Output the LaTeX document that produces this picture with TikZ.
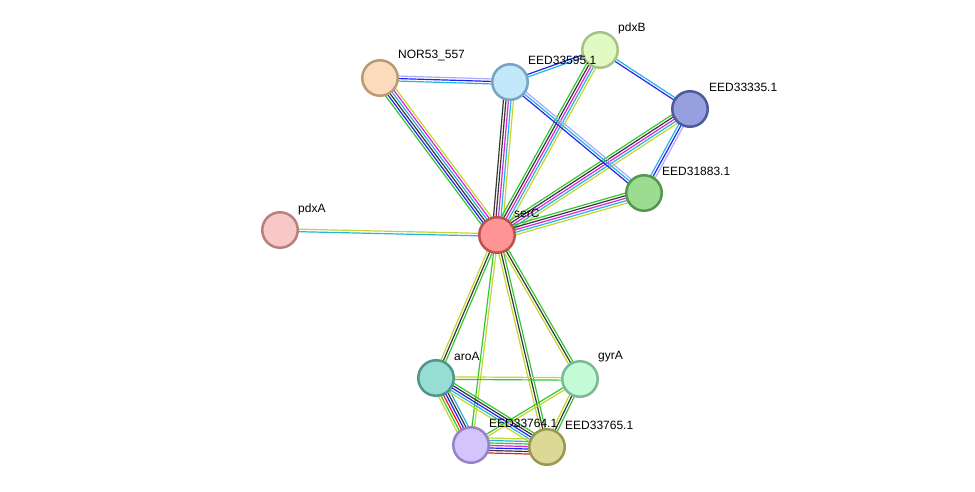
\documentclass[tikz,border=0pt]{standalone}
\usepackage{fontspec}
\setmainfont{Liberation Sans}
\usetikzlibrary{calc,backgrounds}

% evidence channel colours
\definecolor{nbgreen}{RGB}{50,200,50}
\definecolor{fured}{RGB}{240,25,25}
\definecolor{coblue}{RGB}{35,35,240}
\definecolor{cxblack}{RGB}{55,55,55}
\definecolor{expink}{RGB}{220,35,220}
\definecolor{dbcyan}{RGB}{35,180,225}
\definecolor{tmyellow}{RGB}{195,215,45}
\definecolor{holav}{RGB}{170,170,250}

% one coloured line per channel, side by side
\newcommand{\strline}[3]{%
  \foreach \col [count=\k] in {#3} {\xdef\nlines{\k}}
  \foreach \col [count=\k] in {#3} {
    \pgfmathsetmacro{\off}{(\k-(\nlines+1)/2)*2.5}
    \draw[evline,\col] ($(#1.center)!\off pt!90:(#2.center)$) -- ($(#2.center)!\off pt!-90:(#1.center)$);
  }}

\begin{document}
\begin{tikzpicture}[x=1pt,y=-1pt,
  prot/.style={circle,minimum size=35.5pt,inner sep=0pt,line width=2.5pt},
  lbl/.style={anchor=west,inner sep=0pt,font=\fontsize{12}{14}\selectfont},
  evline/.style={line width=1.2pt}]
\useasboundingbox (0,0) rectangle (975,492);

 \node[prot,fill={rgb,255:red,255;green,148;blue,148},draw={rgb,255:red,190;green,80;blue,80}] (serC) at (497,235) {};
 \node[prot,fill={rgb,255:red,248;green,200;blue,200},draw={rgb,255:red,185;green,128;blue,128}] (pdxA) at (280,230) {};
 \node[prot,fill={rgb,255:red,253;green,220;blue,190},draw={rgb,255:red,185;green,155;blue,120}] (nor) at (380,78) {};
 \node[prot,fill={rgb,255:red,195;green,232;blue,250},draw={rgb,255:red,120;green,165;blue,195}] (e595) at (510,82) {};
 \node[prot,fill={rgb,255:red,225;green,250;blue,195},draw={rgb,255:red,165;green,195;blue,135}] (pdxB) at (600,50) {};
 \node[prot,fill={rgb,255:red,150;green,160;blue,225},draw={rgb,255:red,80;green,90;blue,155}] (e335) at (690,109) {};
 \node[prot,fill={rgb,255:red,155;green,220;blue,145},draw={rgb,255:red,85;green,150;blue,80}] (e883) at (644,193) {};
 \node[prot,fill={rgb,255:red,150;green,222;blue,212},draw={rgb,255:red,80;green,150;blue,140}] (aroA) at (436,378) {};
 \node[prot,fill={rgb,255:red,195;green,252;blue,215},draw={rgb,255:red,125;green,185;blue,150}] (gyrA) at (580,379) {};
 \node[prot,fill={rgb,255:red,212;green,196;blue,252},draw={rgb,255:red,150;green,130;blue,200}] (e764) at (471,445) {};
 \node[prot,fill={rgb,255:red,220;green,216;blue,150},draw={rgb,255:red,155;green,150;blue,80}] (e765) at (547,447) {};

 \node[lbl] (serC-t) at ([shift={(17,-22)}]serC.center) {serC};
 \node[lbl] (pdxA-t) at ([shift={(18,-21)}]pdxA.center) {pdxA};
 \node[lbl] (nor-t) at ([shift={(18,-22)}]nor.center) {NOR53\_557};
 \node[lbl] (e595-t) at ([shift={(18,-22)}]e595.center) {EED33595.1};
 \node[lbl] (pdxB-t) at ([shift={(18,-22)}]pdxB.center) {pdxB};
 \node[lbl] (e335-t) at ([shift={(19,-22)}]e335.center) {EED33335.1};
 \node[lbl] (e883-t) at ([shift={(18,-22)}]e883.center) {EED31883.1};
 \node[lbl] (aroA-t) at ([shift={(18,-22)}]aroA.center) {aroA};
 \node[lbl] (gyrA-t) at ([shift={(18,-22)}]gyrA.center) {gyrA};
 \node[lbl] (e764-t) at ([shift={(18,-22)}]e764.center) {EED33764.1};
 \node[lbl] (e765-t) at ([shift={(18,-22)}]e765.center) {EED33765.1};

\begin{pgfonlayer}{background}
 % edges out of serC
 \strline{serC}{pdxA}{tmyellow,dbcyan}
 \strline{serC}{nor}{tmyellow,expink,dbcyan,cxblack,coblue,nbgreen}
 \strline{serC}{e595}{tmyellow,dbcyan,expink,cxblack,cxblack}
 \strline{serC}{pdxB}{tmyellow,dbcyan,expink,cxblack,nbgreen}
 \strline{serC}{e335}{tmyellow,dbcyan,expink,cxblack,nbgreen}
 \strline{serC}{e883}{tmyellow,dbcyan,expink,cxblack,nbgreen}
 \strline{serC}{aroA}{tmyellow,cxblack,nbgreen}
 \strline{serC}{e764}{nbgreen,tmyellow}
 \strline{serC}{e765}{tmyellow,cxblack,nbgreen}
 \strline{serC}{gyrA}{tmyellow,cxblack,nbgreen}
 % upper cluster
 \strline{nor}{e595}{dbcyan,coblue,holav}
 \strline{e595}{pdxB}{dbcyan,coblue}
 \strline{pdxB}{e335}{coblue,dbcyan}
 \strline{e595}{e883}{coblue,dbcyan,holav}
 \strline{e335}{e883}{dbcyan,coblue,holav}
 % lower cluster
 \strline{aroA}{gyrA}{nbgreen,tmyellow}
 \strline{aroA}{e764}{tmyellow,nbgreen,fured,coblue,cxblack,dbcyan}
 \strline{aroA}{e765}{tmyellow,dbcyan,coblue,cxblack,nbgreen}
 \strline{gyrA}{e764}{nbgreen,tmyellow}
 \strline{gyrA}{e765}{tmyellow,cxblack,nbgreen}
 \strline{e764}{e765}{fured,cxblack,coblue,expink,nbgreen,dbcyan,tmyellow}
\end{pgfonlayer}
\end{tikzpicture}
\end{document}
